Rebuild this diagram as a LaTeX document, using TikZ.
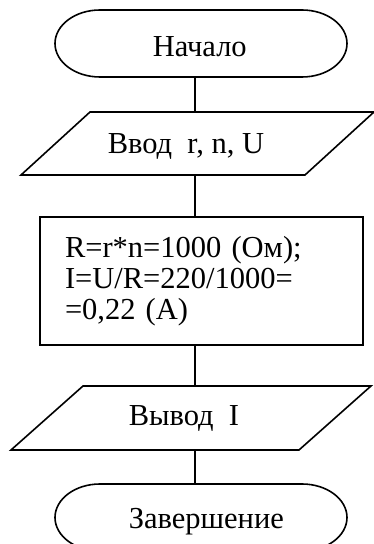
\documentclass[tikz,border=0pt]{standalone}
\usepackage{fontspec}
\setmainfont{Liberation Serif}
\begin{document}
\begin{tikzpicture}[x=1pt,y=1pt,
  line width=1.6pt,
  shapebox/.style={inner sep=0pt, outer sep=0pt},
  lbl/.style={font=\fontsize{30.5}{31}\selectfont, inner sep=0pt, anchor=base west},
  conn/.style={draw, line width=1.6pt}]
\useasboundingbox (0,0) rectangle (374,544);
\clip (0,0) rectangle (374,544);
% start terminator
\node[shapebox, minimum width=292pt, minimum height=67pt] (start) at (201,500.5) {};
\draw ([xshift=45pt]start.north west) -- ([xshift=-45pt]start.north east)
  arc[start angle=90, end angle=-90, x radius=45, y radius=33.5]
  -- ([xshift=45pt]start.south west)
  arc[start angle=270, end angle=90, x radius=45, y radius=33.5] -- cycle;
\node[lbl] (starttext) at (152,487) {Начало};
% input
\node[shapebox, minimum width=353pt, minimum height=63pt] (in) at (197.5,400.5) {};
\draw ([xshift=69pt]in.north west) -- (in.north east) -- ([xshift=-69pt]in.south east) -- (in.south west) -- cycle;
\node[lbl] (intext) at (107,390) {Ввод\ \ r, n, U};
% process
\node[draw, shapebox, minimum width=323pt, minimum height=128pt, text width=273pt,
  align=left, inner xsep=25pt, font=\fontsize{30.5}{31}\selectfont] (calc) at (201.5,263)
  {R=r*n=1000 (Ом);\\I=U/R=220/1000=\\=0,22 (А)};
% output
\node[shapebox, minimum width=360pt, minimum height=64pt] (out) at (191,126) {};
\draw ([xshift=72pt]out.north west) -- (out.north east) -- ([xshift=-72pt]out.south east) -- (out.south west) -- cycle;
\node[lbl] (outtext) at (128,118) {Вывод\ \ I};
% end terminator
\node[shapebox, minimum width=292pt, minimum height=67pt] (stop) at (201,26.5) {};
\draw ([xshift=45pt]stop.north west) -- ([xshift=-45pt]stop.north east)
  arc[start angle=90, end angle=-90, x radius=45, y radius=33.5]
  -- ([xshift=45pt]stop.south west)
  arc[start angle=270, end angle=90, x radius=45, y radius=33.5] -- cycle;
\node[lbl] (stoptext) at (128,16) {Завершение};
% connectors
\draw[conn] (start.south -| 195,0) -- (195,0 |- in.north);
\draw[conn] (in.south -| 195,0) -- (195,0 |- calc.north);
\draw[conn] (calc.south -| 195,0) -- (195,0 |- out.north);
\draw[conn] (out.south -| 195,0) -- (195,0 |- stop.north);
\end{tikzpicture}
\end{document}
